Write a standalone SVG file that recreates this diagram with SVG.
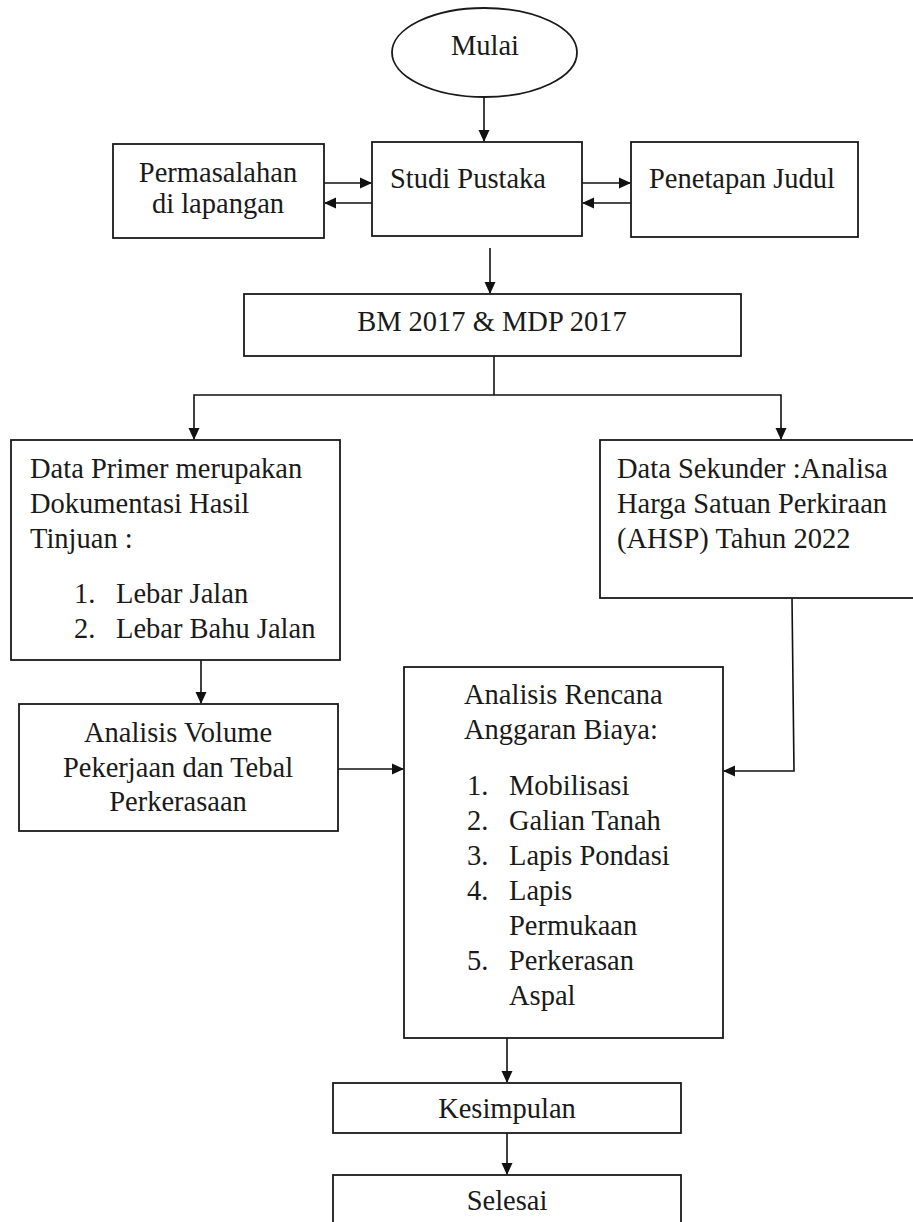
<svg xmlns="http://www.w3.org/2000/svg" width="913" height="1222" viewBox="0 0 913 1222">
<defs>
<marker id="ah" markerUnits="userSpaceOnUse" markerWidth="12" markerHeight="12" viewBox="0 0 12 12" refX="11" refY="6" orient="auto">
<path d="M0,0.5 L12,6 L0,11.5 Z" fill="#111"/>
</marker>
<style>
.box{fill:#fff;stroke:#1a1a1a;stroke-width:1.8}
.t{font-family:"Liberation Serif","Times New Roman",serif;font-size:28.5px;fill:#1a1a1a}
.c{text-anchor:middle}
.ln{fill:none;stroke:#111;stroke-width:1.6}
.ar{fill:none;stroke:#111;stroke-width:1.6;marker-end:url(#ah)}
</style>
</defs>
<rect width="913" height="1222" fill="#fff"/>

<g id="connectors">
<line class="ar" x1="484" y1="97" x2="484" y2="141"/>
<line class="ar" x1="324" y1="183" x2="371" y2="183"/>
<line class="ar" x1="372" y1="203" x2="325" y2="203"/>
<line class="ar" x1="582" y1="183" x2="630" y2="183"/>
<line class="ar" x1="631" y1="203" x2="583" y2="203"/>
<line class="ar" x1="490" y1="248" x2="490" y2="293"/>
<polyline class="ln" points="494,356 494,395"/>
<polyline class="ar" points="494,395 194,395 194,439"/>
<polyline class="ar" points="494,395 781,395 781,439"/>
<line class="ar" x1="201" y1="660" x2="201" y2="703"/>
<line class="ar" x1="338" y1="769" x2="403" y2="769"/>
<polyline class="ar" points="792,598 794,771 724,771"/>
<line class="ar" x1="507" y1="1038" x2="507" y2="1082"/>
<line class="ar" x1="507" y1="1133" x2="507" y2="1174"/>
</g>

<g id="mulai">
<ellipse class="box" cx="484.5" cy="52.5" rx="92.5" ry="44.5"/>
<text class="t c" x="485" y="55">Mulai</text>
</g>

<g id="permasalahan">
<rect class="box" x="113" y="144" width="211" height="94"/>
<text class="t c" x="218" y="182">Permasalahan</text>
<text class="t c" x="218" y="213">di lapangan</text>
</g>

<g id="studi-pustaka">
<rect class="box" x="372" y="142" width="210" height="94"/>
<text class="t" x="390" y="188">Studi Pustaka</text>
</g>

<g id="penetapan-judul">
<rect class="box" x="631" y="142" width="227" height="95"/>
<text class="t" x="649" y="188">Penetapan Judul</text>
</g>

<g id="bm-mdp">
<rect class="box" x="244" y="294" width="497" height="62"/>
<text class="t c" x="492" y="331">BM 2017 &amp; MDP 2017</text>
</g>

<g id="data-primer">
<rect class="box" x="11" y="440" width="329" height="220"/>
<text class="t" x="30" y="478">Data Primer merupakan</text>
<text class="t" x="30" y="513">Dokumentasi Hasil</text>
<text class="t" x="30" y="548">Tinjuan :</text>
<text class="t" x="74" y="603">1.</text>
<text class="t" x="116" y="603">Lebar Jalan</text>
<text class="t" x="74" y="638">2.</text>
<text class="t" x="116" y="638">Lebar Bahu Jalan</text>
</g>

<g id="data-sekunder">
<rect class="box" x="600" y="440" width="330" height="158"/>
<text class="t" x="617" y="478">Data Sekunder :Analisa</text>
<text class="t" x="617" y="513">Harga Satuan Perkiraan</text>
<text class="t" x="617" y="548">(AHSP) Tahun 2022</text>
</g>

<g id="analisis-volume">
<rect class="box" x="19" y="704" width="319" height="127"/>
<text class="t c" x="178" y="742">Analisis Volume</text>
<text class="t c" x="178" y="777">Pekerjaan dan Tebal</text>
<text class="t c" x="178" y="811">Perkerasaan</text>
</g>

<g id="analisis-rab">
<rect class="box" x="404" y="667" width="319" height="371"/>
<text class="t" x="464" y="704">Analisis Rencana</text>
<text class="t" x="464" y="739">Anggaran Biaya:</text>
<text class="t" x="467" y="795">1.</text>
<text class="t" x="509" y="795">Mobilisasi</text>
<text class="t" x="467" y="830">2.</text>
<text class="t" x="509" y="830">Galian Tanah</text>
<text class="t" x="467" y="865">3.</text>
<text class="t" x="509" y="865">Lapis Pondasi</text>
<text class="t" x="467" y="900">4.</text>
<text class="t" x="509" y="900">Lapis</text>
<text class="t" x="509" y="935">Permukaan</text>
<text class="t" x="467" y="970">5.</text>
<text class="t" x="509" y="970">Perkerasan</text>
<text class="t" x="509" y="1005">Aspal</text>
</g>

<g id="kesimpulan">
<rect class="box" x="333" y="1083" width="348" height="50"/>
<text class="t c" x="507" y="1118">Kesimpulan</text>
</g>

<g id="selesai">
<rect class="box" x="333" y="1175" width="348" height="60"/>
<text class="t c" x="507" y="1210">Selesai</text>
</g>
</svg>
